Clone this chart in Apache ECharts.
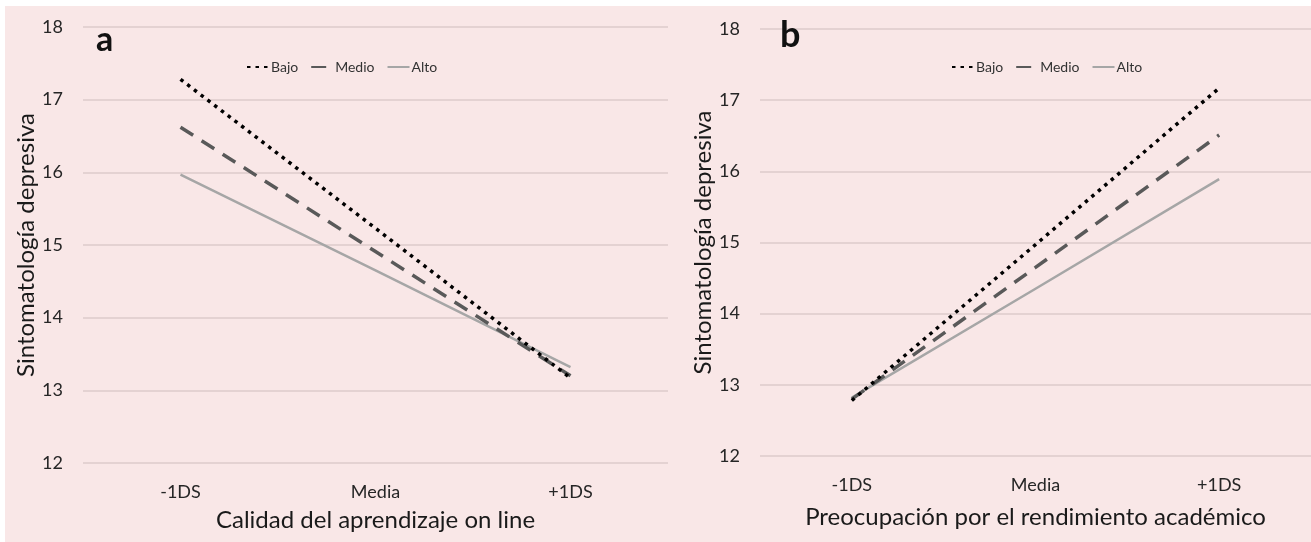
<!DOCTYPE html>
<html><head><meta charset="utf-8">
<script src="https://cdn.jsdelivr.net/npm/echarts@6/dist/echarts.min.js"></script>
<style>
html,body{margin:0;padding:0;background:#fff;}
#c{position:absolute;left:5px;top:6px;width:1306px;height:536px;background:#f9e7e7;}
</style></head><body>
<div id="c"></div>
<script>
const categories = ['-1DS','Media','+1DS'];
const seriesNames = ['Bajo','Medio','Alto'];
// Panel a: Calidad del aprendizaje on line
const aBajo  = [17.28, 15.23, 13.17];
const aMedio = [16.62, 14.91, 13.20];
const aAlto  = [15.97, 14.65, 13.32];
// Panel b: Preocupación por el rendimiento académico
const bBajo  = [12.78, 14.97, 17.17];
const bMedio = [12.80, 14.65, 16.51];
const bAlto  = [12.82, 14.35, 15.89];
const yTicks = [12,13,14,15,16,17,18];

const FONT = 'Lato';
const chart = echarts.init(document.getElementById('c'), null, {renderer:'canvas'});
const styles = {
  Bajo:  {color:'#000000', width:3.5, type:[3.5,5], cap:'butt'},
  Medio: {color:'#595959', width:3.5, type:[15,10], cap:'butt'},
  Alto:  {color:'#a6a6a6', width:2.5, type:'solid'}
};
function mk(name, data, idx){
  const s = styles[name];
  return {name, type:'line', xAxisIndex:idx, yAxisIndex:idx, data, symbol:'none', silent:true,
    lineStyle:{color:s.color, width:s.width, type:s.type, cap:s.cap||'butt'}, itemStyle:{color:s.color},
    z: name==='Alto'?3:(name==='Medio'?4:5)};
}
function xAx(idx, title, gap){
  return {type:'category', gridIndex:idx, data:categories, boundaryGap:true,
    axisLine:{show:false}, axisTick:{show:false},
    axisLabel:{fontFamily:FONT, fontSize:18, color:'#262626', margin:20},
    name:title, nameLocation:'middle', nameGap:gap,
    nameTextStyle:{fontFamily:FONT, fontSize:24, color:'#1a1a1a'}};
}
function yAx(idx, gap){
  return {type:'value', gridIndex:idx, min:yTicks[0], max:yTicks[yTicks.length-1], interval:1,
    axisLine:{show:false}, axisTick:{show:false},
    axisLabel:{fontFamily:FONT, fontSize:18, color:'#262626', margin:20},
    splitLine:{lineStyle:{color:'#dccbcb', width:1.5}},
    name:'Sintomatología depresiva', nameLocation:'middle', nameGap:gap,
    nameTextStyle:{fontFamily:FONT, fontSize:24, color:'#1a1a1a'}};
}
function legend(left){
  return {left, top:49, itemWidth:22, itemHeight:10, itemGap:12, data:seriesNames,
    itemStyle:{color:'rgba(0,0,0,0)', borderWidth:0, opacity:0},
    textStyle:{fontFamily:FONT, fontSize:14, color:'#333', padding:[0,0,0,-3]}, selectedMode:false};
}
chart.setOption({
  animation:false,
  title:[
    {text:'a', left:86, top:12, textStyle:{fontFamily:FONT, fontSize:34, fontWeight:'bold', color:'#111'}},
    {text:'b', left:770, top:6, textStyle:{fontFamily:FONT, fontSize:36, fontWeight:'bold', color:'#111'}}
  ],
  legend:[legend(236), legend(941)],
  grid:[
    {left:78, top:21, width:585, height:436, containLabel:false},
    {left:755, top:23, width:560, height:427, containLabel:false}
  ],
  xAxis:[xAx(0,'Calidad del aprendizaje on line',45), xAx(1,'Preocupación por el rendimiento académico',49)],
  yAxis:[yAx(0,45), yAx(1,41)],
  series:[
    mk('Bajo',aBajo,0), mk('Medio',aMedio,0), mk('Alto',aAlto,0),
    mk('Bajo',bBajo,1), mk('Medio',bMedio,1), mk('Alto',bAlto,1)
  ]
});
</script>
</body></html>
